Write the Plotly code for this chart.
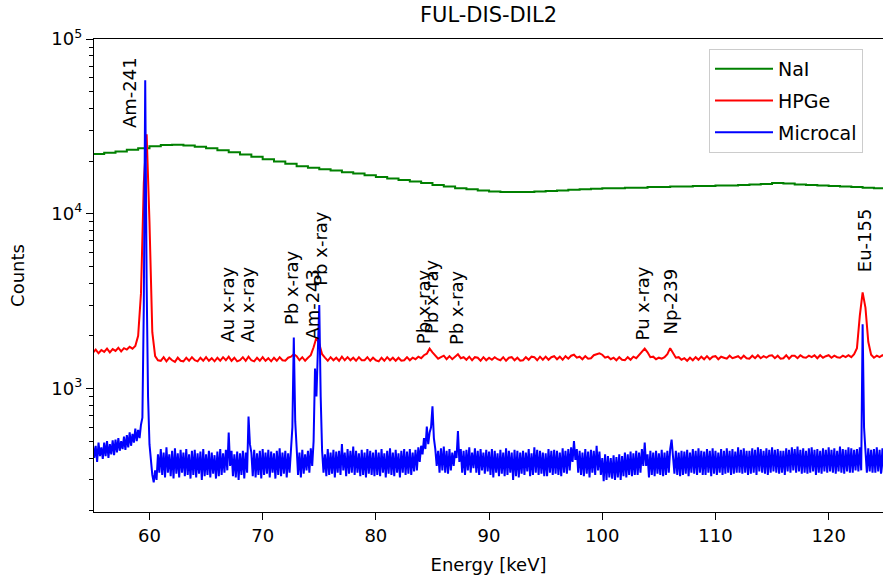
import numpy as np
import plotly.graph_objects as go

# ---------------- data ----------------
TITLE = "FUL-DIS-DIL2"
X_LABEL = "Energy [keV]"
Y_LABEL = "Counts"
SERIES_NAMES = ["NaI", "HPGe", "Microcal"]

# NaI: coarse histogram (1 keV bins, left edges 55..125)
NAI_ENERGY = [55, 56, 57, 58, 59, 60, 61, 62, 63, 64, 65, 66, 67, 68, 69, 70,
              71, 72, 73, 74, 75, 76, 77, 78, 79, 80, 81, 82, 83, 84, 85, 86,
              87, 88, 89, 90, 91, 92, 93, 94, 95, 96, 97, 98, 99, 100, 101,
              102, 103, 104, 105, 106, 107, 108, 109, 110, 111, 112, 113, 114,
              115, 116, 117, 118, 119, 120, 121, 122, 123, 124, 125]
NAI_COUNTS = [22000, 22300, 22700, 23200, 23700, 24300, 24700, 24800, 24600,
              24200, 23700, 23100, 22500, 21800, 21200, 20500, 19900, 19300,
              18700, 18300, 18000, 17700, 17300, 17000, 16600, 16200, 15900,
              15600, 15300, 15000, 14600, 14300, 14000, 13800, 13600, 13400,
              13300, 13300, 13300, 13400, 13500, 13600, 13700, 13800, 13900,
              14000, 14000, 14100, 14100, 14200, 14200, 14300, 14300, 14400,
              14400, 14500, 14500, 14600, 14700, 14800, 15000, 14900, 14700,
              14600, 14500, 14400, 14300, 14200, 14100, 14000, 13900]

# HPGe: 0.25 keV channels, one row per keV (n, n+.25, n+.5, n+.75)
HPGE_START = 55.0
HPGE_STEP = 0.25
HPGE_ROWS = [
    [1600, 1670, 1590, 1660],  # 55
    [1620, 1690, 1610, 1680],  # 56
    [1640, 1710, 1630, 1700],  # 57
    [1670, 1730, 1690, 1750],  # 58
    [2000, 3500, 15000, 28500],  # 59
    [9000, 2100, 1530, 1450],  # 60
    [1440, 1510, 1430, 1500],  # 61
    [1450, 1420, 1500, 1440],  # 62
    [1430, 1500, 1440, 1510],  # 63
    [1450, 1430, 1500, 1440],  # 64
    [1510, 1440, 1490, 1430],  # 65
    [1500, 1440, 1510, 1450],  # 66
    [1520, 1440, 1500, 1430],  # 67
    [1450, 1510, 1440, 1520],  # 68
    [1450, 1430, 1500, 1440],  # 69
    [1510, 1440, 1490, 1430],  # 70
    [1500, 1440, 1510, 1450],  # 71
    [1440, 1500, 1520, 1570],  # 72
    [1530, 1450, 1510, 1440],  # 73
    [1500, 1550, 1720, 1960],  # 74
    [1800, 1570, 1500, 1440],  # 75
    [1510, 1450, 1500, 1440],  # 76
    [1520, 1450, 1510, 1450],  # 77
    [1500, 1440, 1510, 1450],  # 78
    [1450, 1510, 1440, 1500],  # 79
    [1450, 1430, 1500, 1440],  # 80
    [1510, 1450, 1500, 1440],  # 81
    [1500, 1440, 1450, 1510],  # 82
    [1450, 1500, 1470, 1520],  # 83
    [1490, 1550, 1580, 1690],  # 84
    [1610, 1540, 1480, 1510],  # 85
    [1540, 1470, 1530, 1470],  # 86
    [1520, 1570, 1490, 1510],  # 87
    [1460, 1520, 1450, 1510],  # 88
    [1500, 1440, 1510, 1450],  # 89
    [1500, 1460, 1510, 1470],  # 90
    [1450, 1510, 1440, 1500],  # 91
    [1510, 1450, 1500, 1440],  # 92
    [1450, 1510, 1460, 1520],  # 93
    [1510, 1450, 1520, 1460],  # 94
    [1520, 1460, 1510, 1530],  # 95
    [1470, 1520, 1460, 1530],  # 96
    [1480, 1540, 1560, 1500],  # 97
    [1520, 1470, 1530, 1480],  # 98
    [1490, 1550, 1570, 1590],  # 99
    [1560, 1500, 1520, 1470],  # 100
    [1500, 1450, 1510, 1460],  # 101
    [1450, 1510, 1460, 1520],  # 102
    [1490, 1560, 1620, 1690],  # 103
    [1610, 1510, 1520, 1470],  # 104
    [1500, 1480, 1510, 1570],  # 105
    [1700, 1610, 1500, 1510],  # 106
    [1460, 1490, 1440, 1500],  # 107
    [1450, 1510, 1460, 1520],  # 108
    [1470, 1530, 1470, 1520],  # 109
    [1530, 1470, 1520, 1500],  # 110
    [1480, 1540, 1490, 1510],  # 111
    [1530, 1480, 1540, 1490],  # 112
    [1480, 1540, 1490, 1550],  # 113
    [1490, 1530, 1500, 1540],  # 114
    [1550, 1490, 1540, 1480],  # 115
    [1490, 1550, 1480, 1540],  # 116
    [1540, 1490, 1550, 1510],  # 117
    [1500, 1540, 1510, 1550],  # 118
    [1490, 1550, 1500, 1530],  # 119
    [1550, 1500, 1540, 1510],  # 120
    [1500, 1540, 1510, 1550],  # 121
    [1510, 1570, 1700, 2600],  # 122
    [3550, 2900, 1850, 1560],  # 123
    [1500, 1540, 1510, 1550],  # 124
    [1510],                    # 125
]

# Microcal: 0.125 keV channels, one row per keV (8 channels each)
MICRO_START = 55.0
MICRO_STEP = 0.125
MICROCAL_ROWS = [
    [480, 400, 470, 380, 490, 410, 460, 395],  # 55
    [490, 410, 500, 400, 480, 420, 505, 415],  # 56
    [510, 430, 520, 440, 500, 450, 530, 445],  # 57
    [540, 460, 560, 470, 550, 490, 590, 500],  # 58
    [580, 520, 620, 680, 3000, 58000, 4000, 900],  # 59
    [480, 380, 320, 290, 340, 300, 420, 330],  # 60
    [450, 320, 430, 310, 460, 330, 420, 315],  # 61
    [440, 305, 455, 325, 425, 310, 445, 330],  # 62
    [430, 315, 450, 320, 420, 305, 440, 320],  # 63
    [445, 310, 425, 325, 435, 300, 450, 315],  # 64
    [420, 320, 440, 310, 430, 325, 415, 305],  # 65
    [435, 315, 450, 320, 425, 330, 445, 340],  # 66
    [560, 360, 440, 315, 420, 310, 435, 300],  # 67
    [425, 320, 440, 305, 430, 330, 690, 480],  # 68
    [430, 315, 445, 310, 425, 320, 440, 305],  # 69
    [450, 320, 430, 325, 445, 310, 435, 330],  # 70
    [425, 305, 440, 320, 455, 315, 430, 325],  # 71
    [440, 310, 425, 330, 450, 600, 1960, 650],  # 72
    [460, 320, 430, 310, 445, 325, 420, 340],  # 73
    [440, 330, 455, 360, 500, 1300, 900, 1500],  # 74
    [3000, 900, 440, 330, 420, 315, 450, 320],  # 75
    [430, 325, 445, 310, 435, 330, 440, 320],  # 76
    [480, 340, 430, 315, 450, 325, 440, 330],  # 77
    [465, 320, 440, 330, 425, 315, 445, 320],  # 78
    [430, 310, 450, 325, 440, 320, 430, 315],  # 79
    [445, 320, 430, 315, 450, 330, 425, 310],  # 80
    [440, 325, 455, 320, 430, 315, 445, 330],  # 81
    [425, 310, 440, 330, 450, 320, 435, 325],  # 82
    [450, 320, 430, 335, 445, 340, 460, 380],  # 83
    [470, 420, 520, 450, 605, 480, 560, 600],  # 84
    [790, 520, 450, 360, 440, 330, 455, 340],  # 85
    [465, 330, 440, 325, 450, 340, 430, 360],  # 86
    [440, 400, 570, 380, 450, 330, 440, 320],  # 87
    [445, 340, 460, 330, 430, 350, 455, 330],  # 88
    [440, 320, 450, 340, 430, 325, 445, 335],  # 89
    [435, 320, 450, 310, 440, 330, 425, 315],  # 90
    [445, 325, 430, 315, 455, 320, 440, 330],  # 91
    [430, 300, 445, 315, 440, 310, 430, 325],  # 92
    [440, 320, 430, 335, 450, 315, 425, 320],  # 93
    [460, 330, 445, 320, 440, 325, 430, 315],  # 94
    [425, 315, 450, 330, 440, 320, 445, 325],  # 95
    [440, 320, 430, 315, 455, 330, 440, 325],  # 96
    [450, 340, 460, 380, 500, 390, 450, 330],  # 97
    [440, 320, 430, 315, 450, 325, 435, 310],  # 98
    [445, 330, 440, 320, 470, 340, 435, 320],  # 99
    [400, 295, 420, 300, 410, 310, 400, 305],  # 100
    [415, 300, 405, 310, 420, 300, 410, 315],  # 101
    [430, 310, 420, 320, 435, 315, 425, 320],  # 102
    [440, 320, 430, 330, 450, 360, 490, 360],  # 103
    [420, 310, 440, 320, 430, 315, 440, 325],  # 104
    [425, 320, 445, 315, 430, 320, 440, 330],  # 105
    [450, 510, 400, 325, 440, 320, 430, 315],  # 106
    [440, 320, 435, 325, 445, 315, 430, 330],  # 107
    [450, 325, 440, 320, 455, 330, 440, 320],  # 108
    [435, 320, 450, 330, 440, 315, 455, 325],  # 109
    [440, 320, 430, 330, 450, 320, 440, 325],  # 110
    [455, 330, 440, 320, 450, 325, 435, 330],  # 111
    [460, 330, 445, 325, 455, 330, 440, 320],  # 112
    [440, 325, 455, 330, 445, 320, 460, 335],  # 113
    [450, 330, 440, 325, 455, 320, 445, 330],  # 114
    [460, 335, 445, 330, 450, 325, 440, 330],  # 115
    [440, 320, 455, 335, 445, 330, 460, 340],  # 116
    [450, 330, 465, 335, 445, 325, 455, 330],  # 117
    [440, 325, 455, 330, 460, 335, 445, 320],  # 118
    [450, 330, 440, 325, 455, 335, 445, 330],  # 119
    [460, 335, 445, 330, 455, 325, 440, 335],  # 120
    [465, 330, 450, 325, 445, 335, 460, 330],  # 121
    [455, 330, 445, 340, 450, 335, 460, 340],  # 122
    [2330, 600, 440, 330, 455, 335, 445, 330],  # 123
    [450, 330, 460, 335, 445, 325, 455, 330],  # 124
    [440],                                     # 125
]

PEAK_LABELS = ["Am-241", "Au x-ray", "Au x-ray", "Pb x-ray", "Am-243",
               "Pb x-ray", "Pb x-ray", "Pb x-ray", "Pb x-ray", "Pu x-ray",
               "Np-239", "Eu-155"]
PEAK_LABEL_ENERGY = [58.3, 66.87, 68.64, 72.53, 74.43, 75.09, 84.27, 84.98,
                     87.19, 103.53, 106.01, 123.23]
PEAK_LABEL_COUNTS = [30000, 1790, 1790, 2240, 1860, 3760, 1740, 1990, 1720,
                     1840, 1990, 4520]

X_TICKS = [60, 70, 80, 90, 100, 110, 120]
Y_TICKS = [1e3, 1e4, 1e5]
Y_TICK_TEXT = ["10<sup>3</sup>", "10<sup>4</sup>", "10<sup>5</sup>"]

COLORS = ["#008000", "#ff0000", "#0000ff"]

# ---------------- build ----------------
hpge_counts = [v for row in HPGE_ROWS for v in row]
micro_counts = [v for row in MICROCAL_ROWS for v in row]
hpge_energy = [HPGE_START + HPGE_STEP * i for i in range(len(hpge_counts))]
micro_energy = [MICRO_START + MICRO_STEP * i for i in range(len(micro_counts))]

fig = go.Figure()
fig.add_trace(go.Scatter(x=NAI_ENERGY, y=NAI_COUNTS, mode="lines",
                         line=dict(color=COLORS[0], width=2, shape="hv"),
                         name=SERIES_NAMES[0], legendgroup="a"))
fig.add_trace(go.Scatter(x=hpge_energy, y=hpge_counts, mode="lines",
                         line=dict(color=COLORS[1], width=2),
                         name=SERIES_NAMES[1], legendgroup="b"))
fig.add_trace(go.Scatter(x=micro_energy, y=micro_counts, mode="lines",
                         line=dict(color=COLORS[2], width=2),
                         name=SERIES_NAMES[2], legendgroup="c"))

annotations = []
for lab, e, c in zip(PEAK_LABELS, PEAK_LABEL_ENERGY, PEAK_LABEL_COUNTS):
    annotations.append(dict(x=e, y=np.log10(c), xref="x", yref="y", text=lab,
                            textangle=-90, showarrow=False, xanchor="center",
                            yanchor="bottom", font=dict(size=18, color="black")))

minor_vals = []
for dec in [100, 1000, 10000]:
    for m in range(2, 10):
        minor_vals.append(dec * m)

fig.update_layout(
    width=883, height=580,
    margin=dict(l=94, r=0, t=39, b=68),
    paper_bgcolor="white", plot_bgcolor="white",
    font=dict(family="DejaVu Sans", size=18, color="black"),
    title=dict(text=TITLE, x=0.5, xref="paper", xanchor="center",
               y=1 - 15 / 580, yref="container", yanchor="middle",
               font=dict(size=21)),
    legend=dict(x=(709 - 94) / 789, y=(512 - 49) / 473, xanchor="left",
                yanchor="top", bordercolor="#cccccc", borderwidth=1,
                bgcolor="rgba(255,255,255,0.8)", font=dict(size=19),
                tracegroupgap=4, itemwidth=58),
    annotations=annotations,
)
fig.update_xaxes(range=[55.1, 124.8], tickvals=X_TICKS, ticks="outside",
                 ticklen=7, tickwidth=1.3, tickcolor="black",
                 tickfont=dict(size=18),
                 showline=True, linecolor="black", linewidth=1.3, mirror=True,
                 showgrid=False, zeroline=False,
                 title=dict(text=X_LABEL, standoff=13, font=dict(size=18)))
fig.update_yaxes(type="log", range=[2.293, 5], tickvals=Y_TICKS,
                 ticktext=Y_TICK_TEXT, ticks="outside", ticklen=7,
                 tickwidth=1.3, tickcolor="black", tickfont=dict(size=18),
                 minor=dict(tickvals=minor_vals, ticks="outside", ticklen=4,
                            tickwidth=1, tickcolor="black", showgrid=False),
                 showline=True, linecolor="black", linewidth=1.3, mirror=True,
                 showgrid=False, zeroline=False,
                 title=dict(text=Y_LABEL, standoff=22, font=dict(size=18)))

fig.write_html("out.html")
